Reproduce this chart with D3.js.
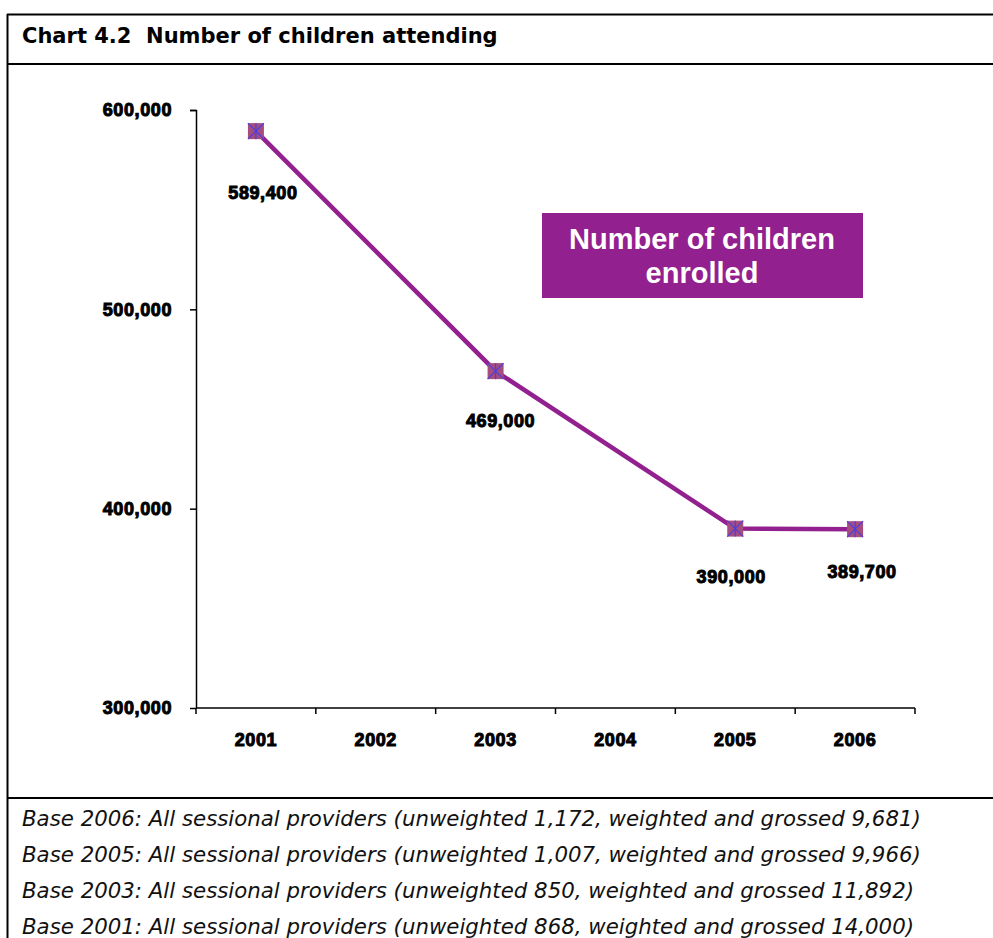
<!DOCTYPE html>
<html lang="en">
<head>
  <meta charset="UTF-8">
  <title>Chart 4.2 Number of children attending</title>
  <style>
    body {
      margin: 0;
      padding: 0;
      background: white;
    }
    .tick text, .vlabel {
      font-family: "Liberation Sans", Arial, sans-serif;
      font-weight: bold;
      font-size: 18px;
      fill: #000;
      stroke: #000;
      stroke-width: 1px;
      letter-spacing: 0.6px;
    }
    .footnote {
      font-family: "DejaVu Sans", Verdana, sans-serif;
      font-style: italic;
      font-size: 21.3px;
      fill: #111;
    }
  </style>
</head>
<body>
<svg width="993" height="938"></svg>
<script src="https://d3js.org/d3.v7.min.js"></script>
<script>
const years = ["2001", "2002", "2003", "2004", "2005", "2006"];
const dataYears = ["2001", "2003", "2005", "2006"];
const attending = [589400, 469000, 390000, 389700];
const labels = ["589,400", "469,000", "390,000", "389,700"];
const yTicks = [300000, 400000, 500000, 600000];
const footnotes = [
  "Base 2006: All sessional providers (unweighted 1,172, weighted and grossed 9,681)",
  "Base 2005: All sessional providers (unweighted 1,007, weighted and grossed 9,966)",
  "Base 2003: All sessional providers (unweighted 850, weighted and grossed 11,892)",
  "Base 2001: All sessional providers (unweighted 868, weighted and grossed 14,000)"
];

const svg = d3.select("svg");
const purple = "#93208f";

// frame lines
svg.append("line").attr("x1", 7).attr("x2", 993).attr("y1", 14.5).attr("y2", 14.5)
  .attr("stroke", "#000").attr("stroke-width", 2);
svg.append("line").attr("x1", 7).attr("x2", 993).attr("y1", 64).attr("y2", 64)
  .attr("stroke", "#000").attr("stroke-width", 2);
svg.append("line").attr("x1", 7).attr("x2", 993).attr("y1", 798).attr("y2", 798)
  .attr("stroke", "#000").attr("stroke-width", 2);
svg.append("line").attr("x1", 7.5).attr("x2", 7.5).attr("y1", 14).attr("y2", 938)
  .attr("stroke", "#000").attr("stroke-width", 2);

svg.append("text")
  .attr("x", 22).attr("y", 43)
  .attr("xml:space", "preserve")
  .style("white-space", "pre")
  .style("font-family", "'DejaVu Sans', Verdana, sans-serif")
  .style("font-weight", "bold")
  .style("font-size", "21px")
  .text("Chart 4.2  Number of children attending");

const x = d3.scaleBand().domain(years).range([196, 915]);
const y = d3.scaleLinear().domain([300000, 600000]).range([708, 110]);

const yAxis = svg.append("g")
  .attr("transform", "translate(196,0)")
  .call(d3.axisLeft(y).tickValues(yTicks).tickSize(6).tickPadding(18)
    .tickFormat(d3.format(",")));
yAxis.select(".domain").attr("stroke", "#000").attr("stroke-width", 1.5)
  .attr("d", "M-6,110.5H0.5V708");
yAxis.selectAll(".tick line").attr("stroke", "#000").attr("stroke-width", 1.5);

const xAxis = svg.append("g")
  .attr("transform", "translate(0,708)")
  .call(d3.axisBottom(x).tickSize(0).tickPadding(25));
xAxis.select(".domain").attr("stroke", "#000").attr("stroke-width", 1.5)
  .attr("d", "M196,0H915");
// ticks between categories
xAxis.selectAll("line.sep")
  .data(years.concat(["end"]))
  .enter().append("line")
  .attr("class", "sep")
  .attr("x1", (d, i) => i < years.length ? x(d) : x.range()[1])
  .attr("x2", (d, i) => i < years.length ? x(d) : x.range()[1])
  .attr("y1", 0).attr("y2", 6)
  .attr("stroke", "#000").attr("stroke-width", 1.5);

const pts = dataYears.map((d, i) => ({year: d, value: attending[i], label: labels[i]}));
const cx = d => x(d.year) + x.bandwidth() / 2;

svg.append("path")
  .datum(pts)
  .attr("fill", "none")
  .attr("stroke", purple)
  .attr("stroke-width", 4.5)
  .attr("d", d3.line().x(cx).y(d => y(d.value)));

const mk = svg.selectAll("g.marker")
  .data(pts)
  .enter().append("g")
  .attr("class", "marker")
  .attr("transform", d => `translate(${cx(d)},${y(d.value)})`);
mk.append("rect")
  .attr("x", -8).attr("y", -8).attr("width", 16).attr("height", 16)
  .attr("fill", "#a64d7f");
mk.append("path")
  .attr("d", "M-8,-8L8,8M-8,8L8,-8M0,-8V8")
  .attr("stroke", "#4b3fe0").attr("stroke-width", 1.2);

const labelOffsets = [{dx: 7, dy: 68}, {dx: 5, dy: 56}, {dx: -4, dy: 54}, {dx: 7, dy: 49}];
svg.selectAll("text.vlabel")
  .data(pts)
  .enter().append("text")
  .attr("class", "vlabel")
  .attr("x", (d, i) => cx(d) + labelOffsets[i].dx)
  .attr("y", (d, i) => y(d.value) + labelOffsets[i].dy)
  .attr("text-anchor", "middle")
  .text(d => d.label);

// legend box
svg.append("rect")
  .attr("x", 542).attr("y", 213).attr("width", 321).attr("height", 85)
  .attr("fill", purple);
svg.append("text")
  .attr("x", 702).attr("y", 249)
  .attr("text-anchor", "middle")
  .style("font-family", "'Liberation Sans', Arial, sans-serif")
  .style("font-weight", "bold")
  .style("font-size", "29px")
  .attr("fill", "#fff")
  .selectAll("tspan")
  .data(["Number of children", "enrolled"])
  .enter().append("tspan")
  .attr("x", 702)
  .attr("dy", (d, i) => i === 0 ? 0 : 34)
  .text(d => d);

svg.selectAll("text.footnote")
  .data(footnotes)
  .enter().append("text")
  .attr("class", "footnote")
  .attr("x", 22)
  .attr("y", (d, i) => 826 + i * 36)
  .text(d => d);
</script>
</body>
</html>
